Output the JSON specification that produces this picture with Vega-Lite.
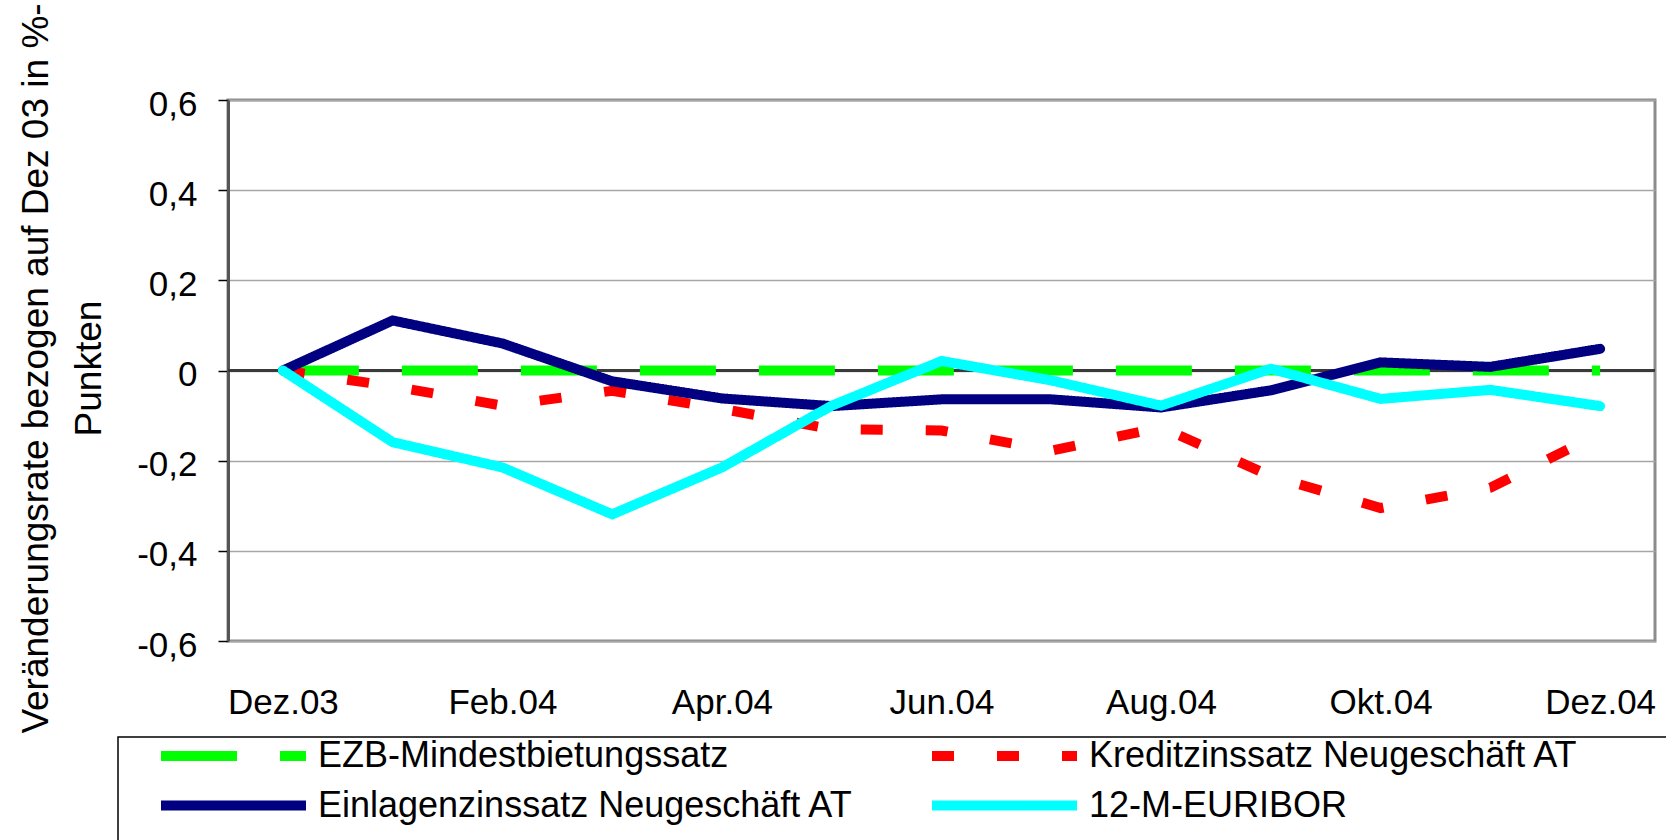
{
  "$schema": "https://vega.github.io/schema/vega-lite/v6.json",
  "autosize": {"type": "none"},
  "padding": {"left": 228, "top": 100, "right": 11, "bottom": 199},
  "width": 1427,
  "height": 541,
  "background": "white",
  "config": {
    "view": {"stroke": "#8c8c8c", "strokeWidth": 3},
    "font": "Liberation Sans",
    "legend": {
      "orient": "none",
      "legendX": -110,
      "legendY": 637,
      "columns": 2,
      "symbolType": "stroke",
      "symbolSize": 21025,
      "symbolStrokeWidth": 10,
      "labelFont": "Liberation Sans",
      "labelFontSize": 36,
      "labelColor": "black",
      "labelLimit": 2000,
      "clipHeight": 36,
      "rowPadding": 13.5,
      "columnPadding": 36,
      "padding": 1,
      "symbolOffset": 37,
      "labelOffset": 7,
      "titleOrient": "right",
      "titleFontSize": 10,
      "titleLineHeight": 60,
      "titlePadding": 93,
      "strokeColor": "black",
      "strokeWidth": 1.5
    }
  },
  "data": {
    "values": [
      {"month": "Dez.03", "series": "EZB-Mindestbietungssatz", "value": 0},
      {"month": "Jän.04", "series": "EZB-Mindestbietungssatz", "value": 0},
      {"month": "Feb.04", "series": "EZB-Mindestbietungssatz", "value": 0},
      {"month": "Mär.04", "series": "EZB-Mindestbietungssatz", "value": 0},
      {"month": "Apr.04", "series": "EZB-Mindestbietungssatz", "value": 0},
      {"month": "Mai.04", "series": "EZB-Mindestbietungssatz", "value": 0},
      {"month": "Jun.04", "series": "EZB-Mindestbietungssatz", "value": 0},
      {"month": "Jul.04", "series": "EZB-Mindestbietungssatz", "value": 0},
      {"month": "Aug.04", "series": "EZB-Mindestbietungssatz", "value": 0},
      {"month": "Sep.04", "series": "EZB-Mindestbietungssatz", "value": 0},
      {"month": "Okt.04", "series": "EZB-Mindestbietungssatz", "value": 0},
      {"month": "Nov.04", "series": "EZB-Mindestbietungssatz", "value": 0},
      {"month": "Dez.04", "series": "EZB-Mindestbietungssatz", "value": 0},
      {"month": "Dez.03", "series": "Kreditzinssatz Neugeschäft AT", "value": 0},
      {"month": "Jän.04", "series": "Kreditzinssatz Neugeschäft AT", "value": -0.035},
      {"month": "Feb.04", "series": "Kreditzinssatz Neugeschäft AT", "value": -0.078},
      {"month": "Mär.04", "series": "Kreditzinssatz Neugeschäft AT", "value": -0.045},
      {"month": "Apr.04", "series": "Kreditzinssatz Neugeschäft AT", "value": -0.085},
      {"month": "Mai.04", "series": "Kreditzinssatz Neugeschäft AT", "value": -0.13},
      {"month": "Jun.04", "series": "Kreditzinssatz Neugeschäft AT", "value": -0.133},
      {"month": "Jul.04", "series": "Kreditzinssatz Neugeschäft AT", "value": -0.178},
      {"month": "Aug.04", "series": "Kreditzinssatz Neugeschäft AT", "value": -0.126},
      {"month": "Sep.04", "series": "Kreditzinssatz Neugeschäft AT", "value": -0.234},
      {"month": "Okt.04", "series": "Kreditzinssatz Neugeschäft AT", "value": -0.305},
      {"month": "Nov.04", "series": "Kreditzinssatz Neugeschäft AT", "value": -0.26},
      {"month": "Dez.04", "series": "Kreditzinssatz Neugeschäft AT", "value": -0.14},
      {"month": "Dez.03", "series": "Einlagenzinssatz Neugeschäft AT", "value": 0},
      {"month": "Jän.04", "series": "Einlagenzinssatz Neugeschäft AT", "value": 0.111},
      {"month": "Feb.04", "series": "Einlagenzinssatz Neugeschäft AT", "value": 0.06},
      {"month": "Mär.04", "series": "Einlagenzinssatz Neugeschäft AT", "value": -0.024},
      {"month": "Apr.04", "series": "Einlagenzinssatz Neugeschäft AT", "value": -0.062},
      {"month": "Mai.04", "series": "Einlagenzinssatz Neugeschäft AT", "value": -0.079},
      {"month": "Jun.04", "series": "Einlagenzinssatz Neugeschäft AT", "value": -0.064},
      {"month": "Jul.04", "series": "Einlagenzinssatz Neugeschäft AT", "value": -0.064},
      {"month": "Aug.04", "series": "Einlagenzinssatz Neugeschäft AT", "value": -0.082},
      {"month": "Sep.04", "series": "Einlagenzinssatz Neugeschäft AT", "value": -0.044},
      {"month": "Okt.04", "series": "Einlagenzinssatz Neugeschäft AT", "value": 0.018},
      {"month": "Nov.04", "series": "Einlagenzinssatz Neugeschäft AT", "value": 0.008},
      {"month": "Dez.04", "series": "Einlagenzinssatz Neugeschäft AT", "value": 0.048},
      {"month": "Dez.03", "series": "12-M-EURIBOR", "value": 0},
      {"month": "Jän.04", "series": "12-M-EURIBOR", "value": -0.159},
      {"month": "Feb.04", "series": "12-M-EURIBOR", "value": -0.215},
      {"month": "Mär.04", "series": "12-M-EURIBOR", "value": -0.319},
      {"month": "Apr.04", "series": "12-M-EURIBOR", "value": -0.215},
      {"month": "Mai.04", "series": "12-M-EURIBOR", "value": -0.078},
      {"month": "Jun.04", "series": "12-M-EURIBOR", "value": 0.021},
      {"month": "Jul.04", "series": "12-M-EURIBOR", "value": -0.022},
      {"month": "Aug.04", "series": "12-M-EURIBOR", "value": -0.078},
      {"month": "Sep.04", "series": "12-M-EURIBOR", "value": 0.004},
      {"month": "Okt.04", "series": "12-M-EURIBOR", "value": -0.063},
      {"month": "Nov.04", "series": "12-M-EURIBOR", "value": -0.043},
      {"month": "Dez.04", "series": "12-M-EURIBOR", "value": -0.079}
    ]
  },
  "layer": [
    {
      "mark": {"type": "rule", "color": "#3a3a3a", "strokeWidth": 2},
      "encoding": {"y": {"datum": 0, "type": "quantitative", "scale": {"domain": [-0.6, 0.6]}}}
    },
    {
      "encoding": {
        "x": {
          "field": "month",
          "type": "ordinal",
          "sort": ["Dez.03", "Jän.04", "Feb.04", "Mär.04", "Apr.04", "Mai.04", "Jun.04", "Jul.04", "Aug.04", "Sep.04", "Okt.04", "Nov.04", "Dez.04"],
          "scale": {"type": "point", "padding": 0.5},
          "axis": {
            "title": null,
            "values": ["Dez.03", "Feb.04", "Apr.04", "Jun.04", "Aug.04", "Okt.04", "Dez.04"],
            "ticks": false,
            "tickSize": 0,
            "domain": false,
            "grid": false,
            "labelFont": "Liberation Sans",
            "labelFontSize": 35,
            "labelColor": "black",
            "labelBaseline": "alphabetic",
            "labelPadding": 72,
            "labelAngle": 0
          }
        },
        "y": {
          "field": "value",
          "type": "quantitative",
          "scale": {"domain": [-0.6, 0.6], "nice": false, "zero": false},
          "axis": {
            "title": ["Veränderungsrate bezogen auf Dez 03 in %-", "Punkten"],
            "titleFont": "Liberation Sans",
            "titleFontSize": 37,
            "titleFontWeight": "normal",
            "titleColor": "black",
            "titleLineHeight": 53,
            "titleAngle": -90,
            "titleAlign": "center",
            "titleBaseline": "bottom",
            "titleX": -173,
            "titleY": 268,
            "values": [-0.6, -0.4, -0.2, 0, 0.2, 0.4, 0.6],
            "labelExpr": "datum.value == 0 ? '0' : (datum.value < 0 ? '-' : '') + replace(format(abs(datum.value), '.1f'), '.', ',')",
            "labelFont": "Liberation Sans",
            "labelFontSize": 35,
            "labelColor": "black",
            "labelPadding": 21,
            "labelOffset": 4,
            "tickSize": 10,
            "tickColor": "black",
            "tickWidth": 1.5,
            "domainColor": "#555555",
            "domainWidth": 3,
            "grid": true,
            "gridColor": "#a6a6a6",
            "gridWidth": 1.5
          }
        },
        "color": {
          "field": "series",
          "type": "nominal",
          "sort": ["EZB-Mindestbietungssatz", "Einlagenzinssatz Neugeschäft AT", "Kreditzinssatz Neugeschäft AT", "12-M-EURIBOR"],
          "scale": {
            "domain": ["EZB-Mindestbietungssatz", "Einlagenzinssatz Neugeschäft AT", "Kreditzinssatz Neugeschäft AT", "12-M-EURIBOR"],
            "range": ["#00ff00", "#000080", "#ff0000", "#00ffff"]
          },
          "legend": {"title": [" ", " ", " "], "orient": "none", "legendX": -110, "legendY": 637, "columns": 2}
        },
        "strokeDash": {
          "field": "series",
          "type": "nominal",
          "sort": ["EZB-Mindestbietungssatz", "Einlagenzinssatz Neugeschäft AT", "Kreditzinssatz Neugeschäft AT", "12-M-EURIBOR"],
          "scale": {
            "domain": ["EZB-Mindestbietungssatz", "Einlagenzinssatz Neugeschäft AT", "Kreditzinssatz Neugeschäft AT", "12-M-EURIBOR"],
            "range": [[76, 43], [1, 0], [22, 43], [1, 0]]
          },
          "legend": {"title": [" ", " ", " "], "orient": "none", "legendX": -110, "legendY": 637, "columns": 2}
        }
      },
      "layer": [
        {
          "transform": [{"filter": {"field": "series", "oneOf": ["EZB-Mindestbietungssatz", "Kreditzinssatz Neugeschäft AT"]}}],
          "mark": {"type": "line", "strokeWidth": 10, "strokeCap": "butt"}
        },
        {
          "transform": [{"filter": {"field": "series", "oneOf": ["Einlagenzinssatz Neugeschäft AT", "12-M-EURIBOR"]}}],
          "mark": {"type": "line", "strokeWidth": 10, "strokeCap": "round"}
        }
      ]
    }
  ]
}
